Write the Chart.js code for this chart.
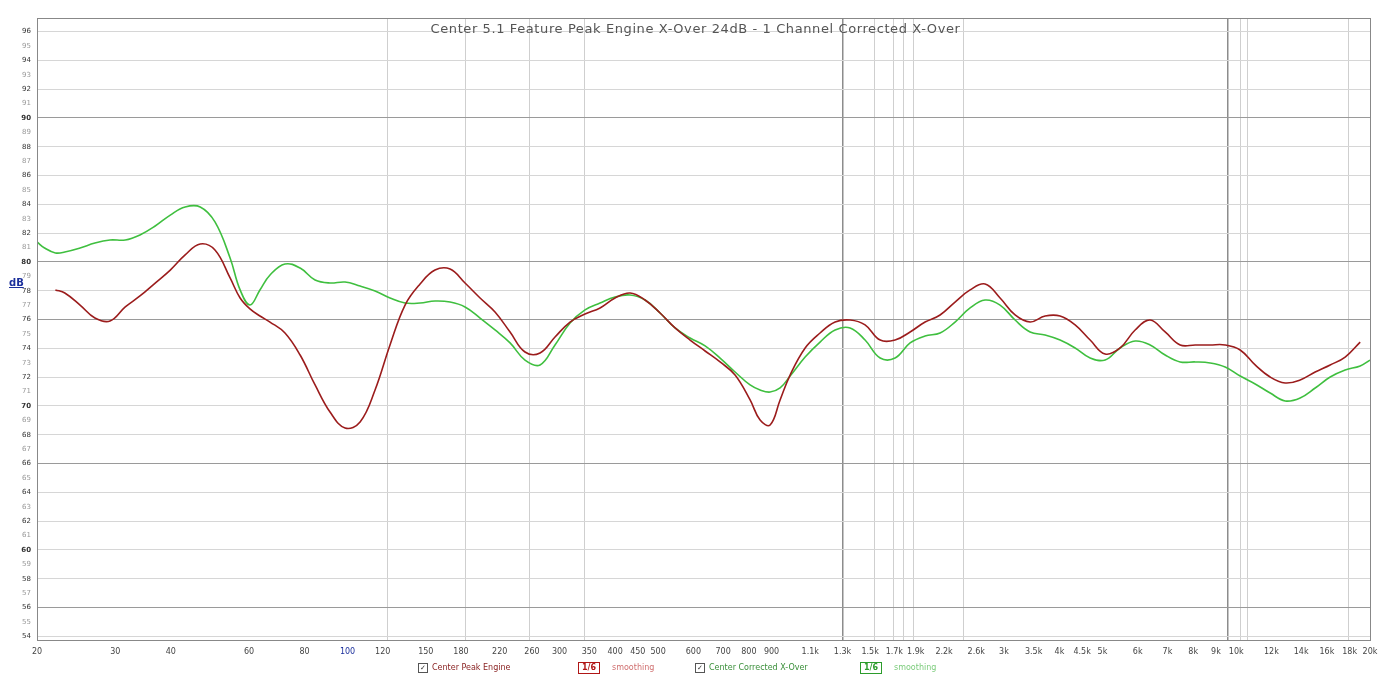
<!DOCTYPE html>
<html>
<head>
<meta charset="utf-8">
<script src="https://cdn.jsdelivr.net/npm/chart.js@4/dist/chart.umd.min.js"></script>
<style>
  html, body { margin: 0; padding: 0; background: #fff; }
  #wrap { position: relative; width: 1391px; height: 681px; overflow: hidden; }
  #c { position: absolute; left: 0; top: 0; }
  .title { position: absolute; left: 0; width: 1391px; top: 21px; text-align: center;
           font: 13px "DejaVu Sans", sans-serif; color: #555; letter-spacing: 0.6px; }
  .unit { position: absolute; left: 9px; top: 277px; font: bold 10px "DejaVu Sans", sans-serif;
          color: #1b2f9c; text-decoration: underline; }
  .legend { position: absolute; top: 662px; height: 12px; font: 8px "DejaVu Sans", sans-serif;
            white-space: nowrap; line-height: 12px; }
  .chk { display: inline-block; width: 8px; height: 8px; border: 1px solid #555; vertical-align: middle;
         font: bold 7px "DejaVu Sans"; line-height: 8px; text-align: center; margin-right: 4px; }
  .box { display: inline-block; padding: 0 3px; border: 1px solid; font: bold 8px "DejaVu Sans";
         line-height: 10px; vertical-align: middle; }
</style>
</head>
<body>
<div id="wrap">
  <canvas id="c" width="1391" height="681"></canvas>
  <div class="title">Center 5.1 Feature Peak Engine X-Over 24dB - 1 Channel Corrected X-Over</div>
  <div class="unit">dB</div>
  <div class="legend" style="left:418px;color:#8a2323"><span class="chk" style="color:#333">✓</span>Center Peak Engine</div>
  <div class="legend" style="left:578px;color:#b01616"><span class="box" style="border-color:#b01616">1/6</span></div>
  <div class="legend" style="left:612px;color:#d07070">smoothing</div>
  <div class="legend" style="left:695px;color:#3a8f3a"><span class="chk" style="color:#333">✓</span>Center Corrected X-Over</div>
  <div class="legend" style="left:860px;color:#2c9c2c"><span class="box" style="border-color:#2c9c2c">1/6</span></div>
  <div class="legend" style="left:894px;color:#7ccc7c">smoothing</div>
</div>
<script>
// Frequency points (Hz) shared by both measurements
const freqs = [20, 20.8, 22.0, 23.1, 25.0, 27.0, 29.2, 31.6, 34.1, 36.9, 39.9, 43.1, 46.6, 50.3, 54.4,
  57.3, 60.3, 63.5, 66.9, 72.3, 78.2, 84.5, 91.3, 98.7, 106.7, 115.3, 124.6, 134.7, 145.6, 157.3,
  170.1, 183.8, 198.7, 214.7, 232.1, 250.8, 271.1, 293.0, 316.7, 342.3, 370.0, 399.9, 432.3, 467.2,
  505.0, 545.8, 590.0, 637.7, 689.2, 744.9, 805.2, 848.0, 893.1, 940.6, 990.6, 1071, 1157, 1251,
  1352, 1461, 1580, 1707, 1845, 1994, 2155, 2329, 2518, 2721, 2941, 3179, 3436, 3714, 4014, 4339,
  4690, 5069, 5478, 5922, 6400, 6918, 7477, 8082, 8735, 9442, 10205, 11030, 11922, 12886, 13928,
  15054, 16271, 17586, 19008, 20000];

// SPL (dB) – center channel, peak engine
const centerPeak = [null, null, 78.06, 77.85, 77.01, 76.11, 75.90, 76.88, 77.64, 78.54, 79.44, 80.49,
  81.25, 80.83, 78.89, 77.50, 76.74, 76.25, 75.83, 75.07, 73.54, 71.46, 69.58, 68.47, 68.89, 71.11,
  74.24, 77.01, 78.47, 79.44, 79.51, 78.54, 77.50, 76.53, 75.14, 73.75, 73.68, 74.79, 75.83, 76.39,
  76.81, 77.50, 77.85, 77.36, 76.46, 75.42, 74.58, 73.82, 73.06, 72.15, 70.42, 69.03, 68.68, 70.42,
  72.15, 74.03, 75.07, 75.83, 75.97, 75.63, 74.58, 74.58, 75.14, 75.83, 76.32, 77.22, 78.06, 78.47,
  77.50, 76.32, 75.83, 76.25, 76.25, 75.63, 74.58, 73.61, 74.03, 75.28, 75.97, 75.14, 74.24, 74.24,
  74.24, 74.24, 73.89, 72.85, 72.01, 71.60, 71.81, 72.36, 72.85, 73.40, 74.44, null];

// SPL (dB) – center channel, corrected crossover
const centerCorrected = [81.39, 80.97, 80.63, 80.69, 80.97, 81.32, 81.53, 81.53, 81.88, 82.50, 83.26,
  83.82, 83.82, 82.78, 80.28, 78.06, 77.01, 78.06, 79.10, 79.86, 79.58, 78.75, 78.54, 78.61, 78.33,
  77.99, 77.50, 77.15, 77.15, 77.29, 77.22, 76.88, 76.11, 75.28, 74.38, 73.19, 72.85, 74.24, 75.76,
  76.67, 77.15, 77.57, 77.71, 77.36, 76.46, 75.42, 74.72, 74.17, 73.33, 72.36, 71.46, 71.11, 70.97,
  71.25, 72.08, 73.40, 74.44, 75.28, 75.42, 74.58, 73.33, 73.33, 74.38, 74.86, 75.07, 75.83, 76.81,
  77.36, 77.01, 75.97, 75.14, 74.93, 74.58, 74.03, 73.33, 73.19, 74.03, 74.51, 74.24, 73.54, 73.06,
  73.06, 72.99, 72.71, 72.08, 71.53, 70.90, 70.35, 70.56, 71.25, 72.01, 72.50, 72.78, 73.19];

// Frequency axis labels (Hz)
const xLabelFreqs = [20, 30, 40, 60, 80, 100, 120, 150, 180, 220, 260, 300, 350, 400, 450, 500, 600,
  700, 800, 900, 1100, 1300, 1500, 1700, 1900, 2200, 2600, 3000, 3500, 4000, 4500, 5000, 6000, 7000,
  8000, 9000, 10000, 12000, 14000, 16000, 18000, 20000];
// Vertical grid frequencies (Hz) and the heavier ones
const xGridFreqs = [123, 184, 257, 342, 1303, 1538, 1690, 1779, 1874, 2428, 9588, 10205, 10578, 17850];
const xGridHeavy = [1303, 9588];
// Level axis labels (dB) and heavier horizontal grid levels
const yLabels = [54, 55, 56, 57, 58, 59, 60, 61, 62, 63, 64, 65, 66, 67, 68, 69, 70, 71, 72, 73, 74, 75,
  76, 77, 78, 79, 80, 81, 82, 83, 84, 85, 86, 87, 88, 89, 90, 91, 92, 93, 94, 95, 96];
const yGridHeavy = [90, 80, 76, 66, 56];

function fmtHz(v) {
  if (v >= 1000) { const k = v / 1000; return (Number.isInteger(k) ? k : k.toFixed(1)) + 'k'; }
  return String(v);
}

const framePlugin = {
  id: 'frame',
  afterDraw(chart) {
    const { ctx, chartArea: a } = chart;
    ctx.save();
    ctx.strokeStyle = '#888';
    ctx.lineWidth = 1;
    ctx.strokeRect(a.left + 0.5, a.top + 0.5, a.right - a.left, a.bottom - a.top);
    ctx.restore();
  }
};

new Chart(document.getElementById('c'), {
  type: 'line',
  data: {
    datasets: [
      {
        label: 'Center Peak Engine',
        data: freqs.map((f, i) => ({ x: f, y: centerPeak[i] })),
        borderColor: '#9b1c1c',
        borderWidth: 1.6,
        pointRadius: 0,
        tension: 0.4,
        spanGaps: false
      },
      {
        label: 'Center Corrected X-Over',
        data: freqs.map((f, i) => ({ x: f, y: centerCorrected[i] })),
        borderColor: '#3fbf3f',
        borderWidth: 1.6,
        pointRadius: 0,
        tension: 0.4
      }
    ]
  },
  options: {
    responsive: false,
    animation: false,
    layout: { padding: { top: 18, right: 21, left: 0, bottom: 0 } },
    plugins: { legend: { display: false }, tooltip: { enabled: false } },
    scales: {
      x: {
        type: 'logarithmic',
        min: 20,
        max: 20000,
        afterBuildTicks(scale) {
          const all = Array.from(new Set([...xLabelFreqs, ...xGridFreqs])).sort((a, b) => a - b);
          scale.ticks = all.map(v => ({ value: v }));
        },
        afterFit(scale) { scale.height = 41; },
        border: { color: '#888' },
        grid: {
          drawTicks: false,
          color(ctx) {
            const v = ctx.tick && ctx.tick.value;
            if (xGridHeavy.includes(v)) return '#8c8c8c';
            if (xGridFreqs.includes(v)) return '#cfcfcf';
            return 'rgba(0,0,0,0)';
          },
          lineWidth(ctx) {
            const v = ctx.tick && ctx.tick.value;
            return xGridHeavy.includes(v) ? 1.5 : 1;
          }
        },
        ticks: {
          autoSkip: false,
          maxRotation: 0,
          padding: 7,
          font: { family: 'DejaVu Sans', size: 8 },
          color(ctx) { return ctx.tick && ctx.tick.value === 100 ? '#1b2f9c' : '#444'; },
          callback(value) { return xLabelFreqs.includes(value) ? fmtHz(value) : ''; }
        }
      },
      y: {
        type: 'linear',
        min: 53.75,
        max: 96.944,
        afterBuildTicks(scale) { scale.ticks = yLabels.map(v => ({ value: v })); },
        afterFit(scale) { scale.width = 37; },
        border: { color: '#888' },
        grid: {
          drawTicks: false,
          color(ctx) {
            const v = ctx.tick && ctx.tick.value;
            if (yGridHeavy.includes(v)) return '#9a9a9a';
            if (v % 2 === 0) return '#d6d6d6';
            return 'rgba(0,0,0,0)';
          }
        },
        ticks: {
          padding: 6,
          font(ctx) {
            const v = ctx.tick && ctx.tick.value;
            return { family: 'DejaVu Sans', size: 7, weight: v % 10 === 0 ? 'bold' : 'normal' };
          },
          color(ctx) { return ctx.tick && ctx.tick.value % 2 === 0 ? '#333' : '#999'; },
          callback(value) { return String(value); }
        }
      }
    }
  },
  plugins: [framePlugin]
});
</script>
</body>
</html>
